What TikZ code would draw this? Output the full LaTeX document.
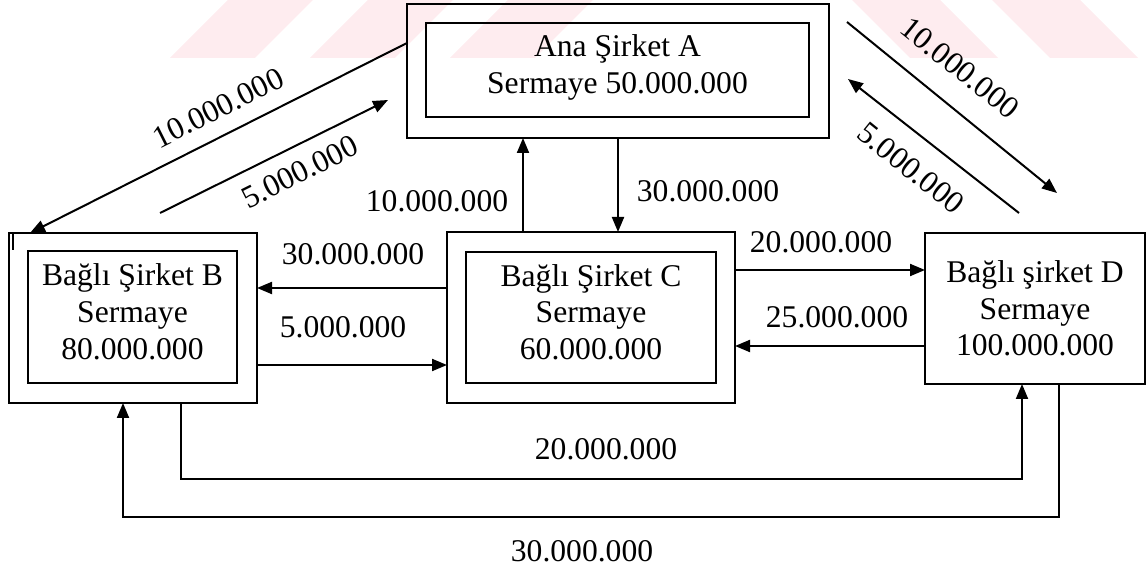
\documentclass[tikz,border=0pt]{standalone}
\usepackage{fontspec}
\setmainfont{Liberation Serif}
\usetikzlibrary{arrows.meta,positioning,calc}

\definecolor{wmpink}{RGB}{254,236,239}
\newcommand{\diagfont}{\fontsize{15.8}{18.3}\selectfont}

\tikzset{
  outerbox/.style={draw, line width=0.8pt, inner sep=0pt, outer sep=0pt},
  innerbox/.style={draw, line width=0.8pt, inner sep=0pt, outer sep=0pt, align=center, font=\diagfont},
  flow/.style={line width=1pt, -{Triangle[length=7.5pt,width=6pt]}},
  amount/.style={font=\diagfont, inner sep=0pt},
}

\begin{document}
\begin{tikzpicture}[x=0.5pt,y=-0.5pt]
    \useasboundingbox (0,0) rectangle (1147,571);

    % Watermark bands
    \foreach \x in {170,310,450}
        \fill[wmpink] (\x,58) -- (\x+85,58) -- (\x+143,0) -- (\x+58,0) -- cycle;
    \foreach \x in {910,1050}
        \fill[wmpink] (\x,58) -- (\x+88,58) -- (\x+30,0) -- (\x-58,0) -- cycle;

    % Parent company
    \node[outerbox, minimum width=211pt, minimum height=67pt] (A) at (618,71) {};
    \node[innerbox, minimum width=191.5pt, minimum height=47pt, text depth=6pt] (Ain) at (617.5,70) {Ana Şirket A\\Sermaye 50.000.000};

    % Subsidiaries
    \node[outerbox, minimum width=124pt, minimum height=85pt] (B) at (133,318) {};
    \node[innerbox, minimum width=104.5pt, minimum height=66pt, text depth=5.5pt] (Bin) at (132.5,317) {Bağlı Şirket B\\Sermaye\\80.000.000};
    \draw[line width=0.6pt] ([xshift=2pt]B.north west) -- ++(0,17);

    \node[outerbox, minimum width=144pt, minimum height=85.5pt] (C) at (591,317.5) {};
    \node[innerbox, minimum width=125pt, minimum height=65.5pt, text depth=5.5pt] (Cin) at (591,317.5) {Bağlı Şirket C\\Sermaye\\60.000.000};

    \node[innerbox, minimum width=110pt, minimum height=75.5pt] (D) at (1035,308.5) {Bağlı şirket D\\Sermaye\\100.000.000};

    % A <-> B
    \coordinate (b5) at (160,213);
    \coordinate (a5) at (388,100);
    \draw[flow] (A.west |- 0,43) -- (B.north -| 30,0);
    \draw[flow] (b5) -- (a5);
    \node[amount, rotate=26.6] (lab1) at (218,108) {10.000.000};
    \node[amount, rotate=26.6] (lab2) at (300,172) {5.000.000};

    % A <-> D
    \coordinate (a10) at (847,22);
    \coordinate (d10) at (1057,193);
    \coordinate (d5) at (1019,213);
    \coordinate (a5r) at (848,79);
    \draw[flow] (a10) -- (d10);
    \draw[flow] (d5) -- (a5r);
    \node[amount, rotate=-39] (lad1) at (960,68) {10.000.000};
    \node[amount, rotate=-39] (lad2) at (911,168) {5.000.000};

    % A <-> C
    \draw[flow] (C.north -| 523,0) -- (A.south -| 523,0);
    \draw[flow] (A.south -| 618,0) -- (C.north -| 618,0);
    \node[amount, anchor=base] (lac1) at (437,212) {10.000.000};
    \node[amount, anchor=base] (lac2) at (708,202) {30.000.000};

    % B <-> C
    \draw[flow] (C.west |- 0,288) -- (B.east |- 0,288);
    \draw[flow] (B.east |- 0,365) -- (C.west |- 0,365);
    \node[amount, anchor=base] (lbc1) at (353,265) {30.000.000};
    \node[amount, anchor=base] (lbc2) at (343,338) {5.000.000};

    % C <-> D
    \draw[flow] (C.east |- 0,270) -- (D.west |- 0,270);
    \draw[flow] (D.west |- 0,346) -- (C.east |- 0,346);
    \node[amount, anchor=base] (lcd1) at (821,253) {20.000.000};
    \node[amount, anchor=base] (lcd2) at (837,328) {25.000.000};

    % B <-> D loops
    \draw[flow] (B.south -| 181,0) |- (1022,479) -- (D.south -| 1022,0);
    \draw[flow] (D.south -| 1059,0) |- (123,517) -- (B.south -| 123,0);
    \node[amount, anchor=base] (lbd1) at (606,460) {20.000.000};
    \node[amount, anchor=base] (lbd2) at (582,562) {30.000.000};
\end{tikzpicture}
\end{document}
